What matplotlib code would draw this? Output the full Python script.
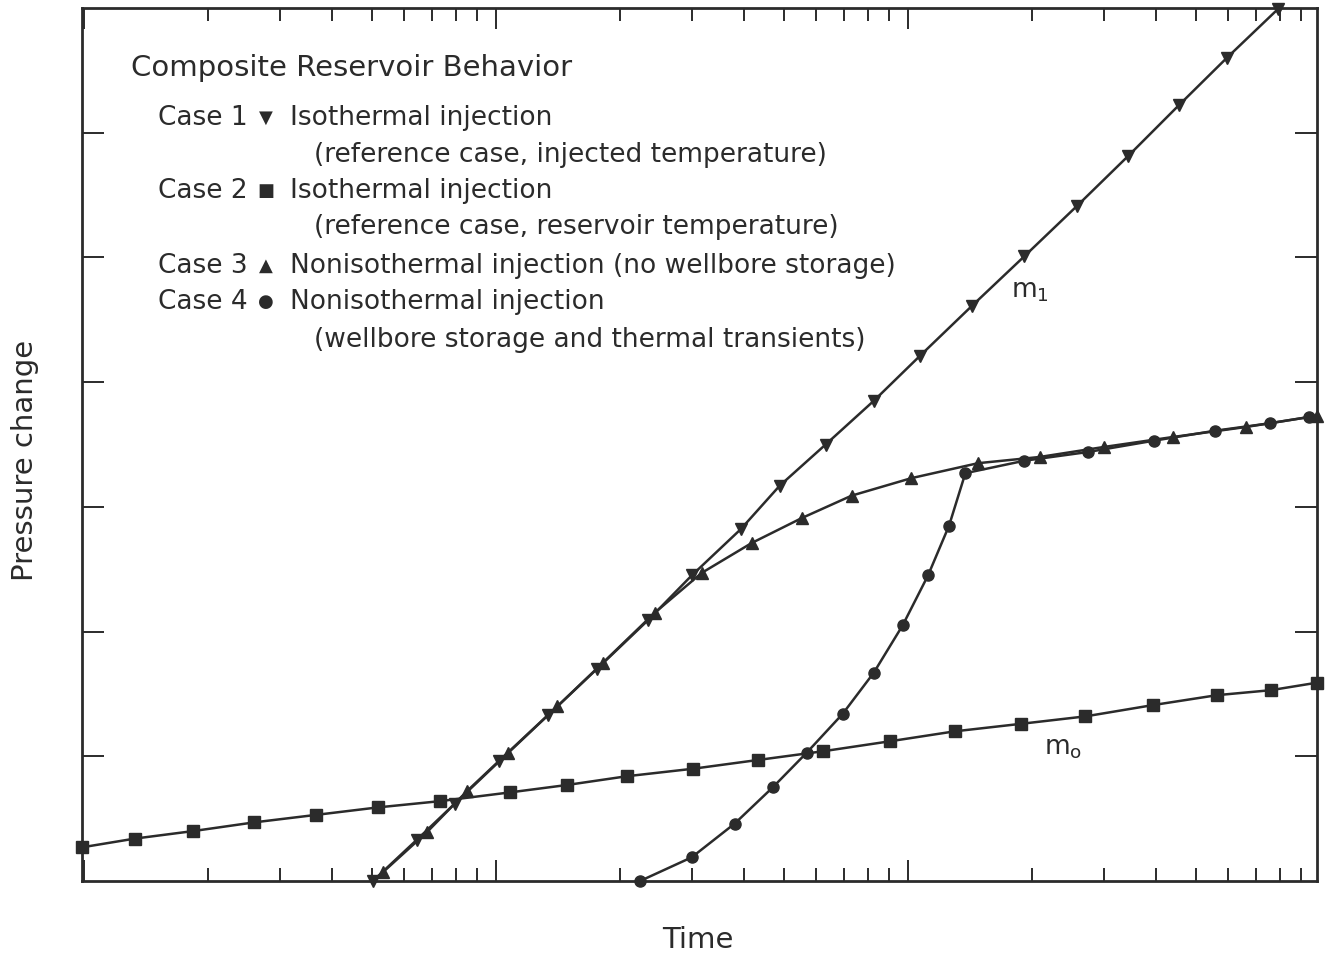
import matplotlib
matplotlib.use("Agg")
import matplotlib.pyplot as plt
from matplotlib.ticker import LogLocator, NullFormatter, FixedLocator

# values (time on log axis, pressure change in tick units)
t_case1 = [5.03, 6.43, 7.95, 10.2, 13.4, 17.6, 23.4, 29.9, 39.3, 48.9, 63.2, 82.7,
           107, 143, 192, 257, 342, 455, 595, 791]
p_case1 = [0.0, 0.33, 0.62, 0.96, 1.33, 1.70, 2.09, 2.45, 2.82, 3.17, 3.50, 3.85,
           4.21, 4.61, 5.01, 5.41, 5.81, 6.22, 6.60, 6.99]

t_case2 = [0.99, 1.33, 1.84, 2.59, 3.66, 5.17, 7.31, 10.8, 14.9, 20.8, 30.1, 43.2,
           62.2, 90.4, 130, 188, 270, 393, 563, 761, 984]
p_case2 = [0.27, 0.34, 0.40, 0.47, 0.53, 0.59, 0.64, 0.71, 0.77, 0.84, 0.90, 0.97,
           1.04, 1.12, 1.20, 1.26, 1.32, 1.41, 1.49, 1.53, 1.59]

t_case3 = [5.32, 6.80, 8.51, 10.7, 14.1, 18.2, 24.3, 31.6, 41.8, 55.3, 73.1, 102,
           148, 209, 299, 440, 661, 984]
p_case3 = [0.07, 0.39, 0.72, 1.03, 1.40, 1.75, 2.15, 2.47, 2.71, 2.91, 3.09, 3.23,
           3.35, 3.40, 3.48, 3.56, 3.64, 3.73]

t_case4 = [22.4, 29.9, 38.0, 47.0, 56.9, 69.5, 82.7, 97.2, 112, 126, 138, 192,
           274, 395, 556, 756, 940]
p_case4 = [0.0, 0.19, 0.46, 0.75, 1.03, 1.34, 1.67, 2.05, 2.45, 2.85, 3.27, 3.37,
           3.44, 3.53, 3.61, 3.67, 3.72]

title = "Composite Reservoir Behavior"
case_rows = [
    ("Case 1", "\u25BC", "Isothermal injection", "(reference case, injected temperature)"),
    ("Case 2", "\u25A0", "Isothermal injection", "(reference case, reservoir temperature)"),
    ("Case 3", "\u25B2", "Nonisothermal injection (no wellbore storage)", None),
    ("Case 4", "\u25CF", "Nonisothermal injection", "(wellbore storage and thermal transients)"),
]

INK = "#2b2b2b"
W, H = 1326, 961

fig = plt.figure(figsize=(W / 100, H / 100), dpi=100)
ax = fig.add_axes([82 / W, 80 / H, (1317 - 82) / W, (881 - 8) / H])

line_kw = dict(color=INK, lw=1.8, mec=INK, mfc=INK, clip_on=False, zorder=3)
ax.plot(t_case2, p_case2, marker="s", ms=8, **line_kw)
ax.plot(t_case4, p_case4, marker="o", ms=8, **line_kw)
ax.plot(t_case3, p_case3, marker="^", ms=9, **line_kw)
ax.plot(t_case1, p_case1, marker="v", ms=9, **line_kw)

ax.set_xscale("log")
ax.set_xlim(0.99, 985)
ax.set_ylim(0, 7)

ax.xaxis.set_major_locator(LogLocator(base=10, numticks=10))
ax.xaxis.set_minor_locator(LogLocator(base=10, subs=range(2, 10), numticks=10))
ax.xaxis.set_major_formatter(NullFormatter())
ax.xaxis.set_minor_formatter(NullFormatter())
ax.yaxis.set_major_locator(FixedLocator([1, 2, 3, 4, 5, 6]))
ax.yaxis.set_major_formatter(NullFormatter())
ax.tick_params(axis="x", which="major", direction="in", length=15, width=1.4,
               top=True, bottom=True, color=INK)
ax.tick_params(axis="x", which="minor", direction="in", length=9.5, width=1.4,
               top=True, bottom=True, color=INK)
ax.tick_params(axis="y", which="major", direction="in", length=16, width=1.4,
               left=True, right=True, color=INK)
ax.tick_params(axis="y", which="minor", left=False, right=False)
for sp in ax.spines.values():
    sp.set_linewidth(2)
    sp.set_color(INK)

# slope labels
ax.text(198, 4.73, r"$\mathregular{m_1}$", fontsize=19, color=INK, ha="center", va="center")
ax.text(238, 1.07, r"$\mathregular{m_o}$", fontsize=19, color=INK, ha="center", va="center")

# annotation block
fs = 19
fig.text(131 / W, 1 - 68 / H, title, fontsize=21, color=INK, ha="left", va="center")
rows_y = [(118, 155), (191, 227), (266, None), (302, 340)]
for (case, sym, head, sub), (y1, y2) in zip(case_rows, rows_y):
    fig.text(158 / W, 1 - y1 / H, case, fontsize=fs, color=INK, ha="left", va="center")
    fig.text(266 / W, 1 - y1 / H, sym, fontsize=13, color=INK, ha="center", va="center")
    fig.text(290 / W, 1 - y1 / H, head, fontsize=fs, color=INK, ha="left", va="center")
    if sub is not None:
        fig.text(314 / W, 1 - y2 / H, sub, fontsize=fs, color=INK, ha="left", va="center")

fig.text(698 / W, 1 - 940 / H, "Time", fontsize=21, color=INK, ha="center", va="center")
fig.text(25 / W, 1 - 460 / H, "Pressure change", fontsize=21, color=INK,
         ha="center", va="center", rotation=90)

fig.savefig("out.png", dpi=100)
